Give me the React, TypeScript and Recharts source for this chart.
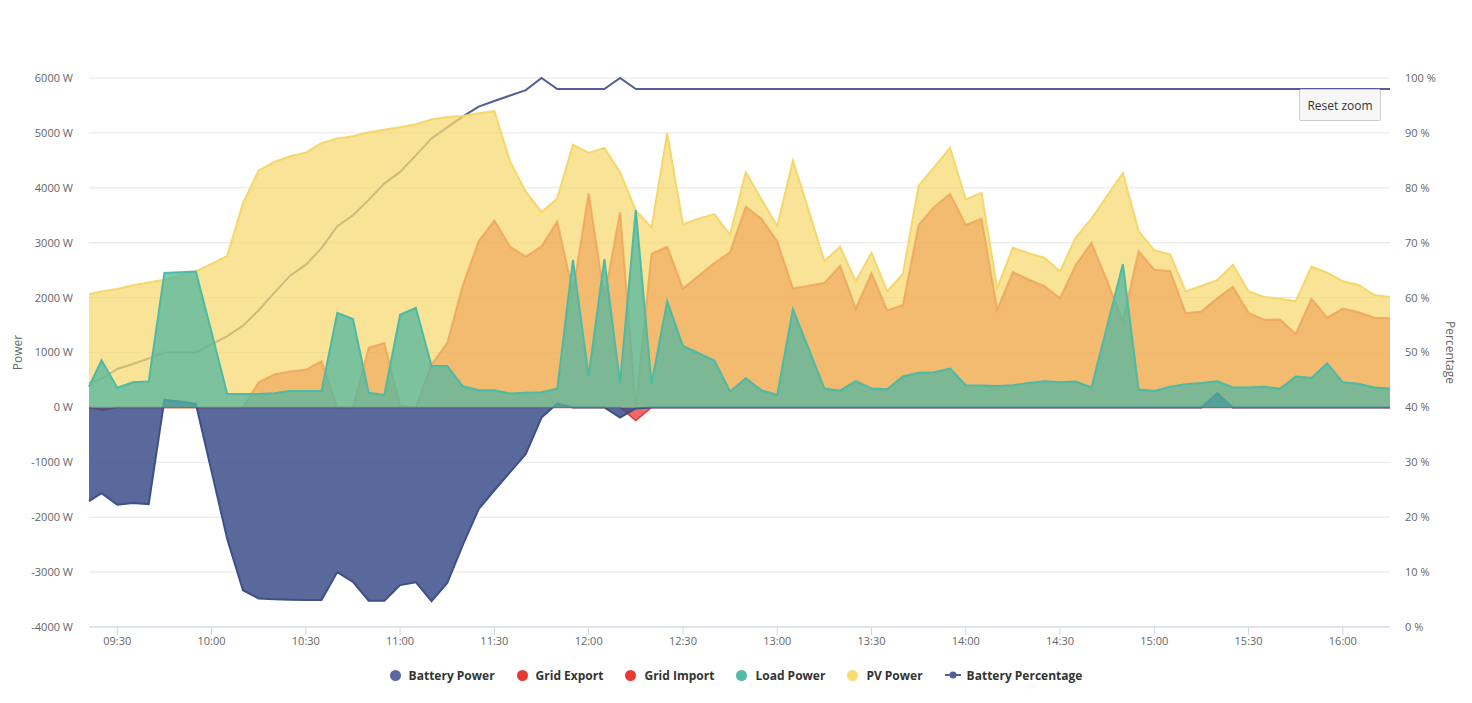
import React from 'react';
import { ComposedChart, Area, Line, XAxis, YAxis, CartesianGrid, Legend } from 'recharts';

// minutes since midnight
const times = [
  561, 565, 570, 575, 580, 585, 590, 595, 600, 605,
  610, 615, 620, 625, 630, 635, 640, 645, 650, 655,
  660, 665, 670, 675, 680, 685, 690, 695, 700, 705,
  710, 715, 720, 725, 730, 735, 740, 745, 750, 755,
  760, 765, 770, 775, 780, 785, 790, 795, 800, 805,
  810, 815, 820, 825, 830, 835, 840, 845, 850, 855,
  860, 865, 870, 875, 880, 885, 890, 895, 900, 905,
  910, 915, 920, 925, 930, 935, 940, 945, 950, 955,
  960, 965, 970, 975,
];

const pvPower = [
  2060, 2112, 2158, 2224, 2277, 2324, 2400, 2476, 2615, 2760,
  3720, 4316, 4470, 4574, 4640, 4813, 4899, 4938, 5011, 5058,
  5104, 5157, 5243, 5289, 5309, 5356, 5395, 4482, 3930, 3555,
  3807, 4786, 4634, 4727, 4283, 3588, 3277, 4991, 3336, 3436,
  3522, 3145, 4283, 3787, 3303, 4495, 3588, 2661, 2926, 2297,
  2814, 2112, 2430, 4038, 4382, 4727, 3787, 3906, 2178, 2906,
  2807, 2727, 2476, 3092, 3436, 3853, 4270, 3211, 2860, 2790,
  2112, 2211, 2317, 2595, 2112, 2012, 1979, 1933, 2562, 2456,
  2297, 2231, 2046, 2012,
];

const gridExport = [
  0, 0, 0, 0, 0, 0, 0, 0, 0, 0,
  0, 457, 602, 655, 685, 841, 0, 0, 1086, 1172,
  30, 0, 780, 1172, 2231, 3025, 3403, 2926, 2747, 2933,
  3383, 2100, 3899, 2000, 3555, 0, 2794, 2926, 2165, 2396,
  2628, 2827, 3654, 3436, 3025, 2165, 2218, 2264, 2582, 1801,
  2443, 1768, 1867, 3323, 3654, 3886, 3323, 3436, 1781, 2463,
  2330, 2211, 1986, 2595, 2992, 2300, 1569, 2847, 2509, 2486,
  1715, 1748, 1986, 2198, 1721, 1595, 1602, 1337, 1979, 1635,
  1801, 1734, 1635, 1622,
];

const gridImport = [
  0, -50, 0, 0, 0, 0, 0, 0, 0, 0,
  0, 0, 0, 0, 0, 0, 0, 0, 0, 0,
  0, 0, 0, 0, 0, 0, 0, 0, 0, 0,
  0, 0, 0, 0, 0, -240, 0, 0, 0, 0,
  0, 0, 0, 0, 0, 0, 0, 0, 0, 0,
  0, 0, 0, 0, 0, 0, 0, 0, 0, 0,
  0, 0, 0, 0, 0, 0, 0, 0, 0, 0,
  0, 0, 0, 0, 0, 0, 0, 0, 0, 0,
  0, 0, 0, 0,
];

const loadPower = [
  377, 854, 357, 457, 470, 2450, 2463, 2476, 1370, 245,
  245, 245, 258, 298, 298, 298, 1721, 1609, 265, 225,
  1688, 1814, 755, 755, 384, 311, 311, 252, 265, 278,
  338, 2688, 576, 2701, 444, 3595, 430, 1933, 1119, 986,
  854, 291, 530, 311, 225, 1787, 1072, 344, 305, 477,
  344, 331, 563, 629, 642, 708, 404, 397, 391, 404,
  444, 477, 457, 470, 364, 1483, 2608, 324, 298, 377,
  424, 444, 477, 364, 364, 377, 338, 563, 536, 801,
  457, 430, 364, 344,
];

const batteryPower = [
  -1708, -1562, -1774, -1741, -1761, 139, 106, 66, -1165, -2400,
  -3330, -3482, -3495, -3502, -3508, -3508, -2999, -3178, -3522, -3522,
  -3237, -3184, -3528, -3197, -2500, -1854, -1509, -1178, -847, -185,
  70, 0, 0, 0, -185, -20, 0, 0, 0, 0,
  0, 0, 0, 0, 0, 0, 0, 0, 0, 0,
  0, 0, 0, 0, 0, 0, 0, 0, 0, 0,
  0, 0, 0, 0, 0, 0, 0, 0, 0, 0,
  0, 0, 258, 0, 0, 0, 0, 0, 0, 0,
  0, 0, 0, 0,
];

const batteryPercentage = [
  44.4, 45.2, 47.0, 47.9, 48.9, 50.0, 50.0, 50.0, 51.5, 53.0,
  54.9, 57.7, 60.9, 64.0, 66.0, 69.0, 73.0, 75.0, 77.8, 80.8,
  82.9, 85.9, 89.0, 91.0, 93.0, 94.8, 95.8, 96.8, 97.8, 100,
  98, 98, 98, 98, 100, 98, 98, 98, 98, 98,
  98, 98, 98, 98, 98, 98, 98, 98, 98, 98,
  98, 98, 98, 98, 98, 98, 98, 98, 98, 98,
  98, 98, 98, 98, 98, 98, 98, 98, 98, 98,
  98, 98, 98, 98, 98, 98, 98, 98, 98, 98,
  98, 98, 98, 98,
];

const xTicks = [570, 600, 630, 660, 690, 720, 750, 780, 810, 840, 870, 900, 930, 960];
const xTickLabels = ['09:30', '10:00', '10:30', '11:00', '11:30', '12:00', '12:30', '13:00', '13:30', '14:00', '14:30', '15:00', '15:30', '16:00'];
const powerTicks = [-4000, -3000, -2000, -1000, 0, 1000, 2000, 3000, 4000, 5000, 6000];
const percentTicks = [0, 10, 20, 30, 40, 50, 60, 70, 80, 90, 100];

const legendItems = [
  { name: 'Battery Power', color: '#5a699c', kind: 'circle' },
  { name: 'Grid Export', color: '#e53935', kind: 'circle' },
  { name: 'Grid Import', color: '#e53935', kind: 'circle' },
  { name: 'Load Power', color: '#52bba6', kind: 'circle' },
  { name: 'PV Power', color: '#f7dc6f', kind: 'circle' },
  { name: 'Battery Percentage', color: '#4f5f98', kind: 'line' },
];

const data = times.map((t, i) => ({
  t,
  pv: pvPower[i],
  exp: gridExport[i],
  imp: gridImport[i],
  load: loadPower[i],
  battery: batteryPower[i],
  pct: batteryPercentage[i],
}));

const FONT = "'Open Sans', 'Noto Sans', sans-serif";

const formatX = (v: number) => {
  const idx = xTicks.indexOf(v);
  return idx >= 0 ? xTickLabels[idx] : '';
};

const LegendContent = () => (
  <div
    style={{
      display: 'flex',
      justifyContent: 'center',
      alignItems: 'center',
      height: 26,
      fontFamily: FONT,
      fontSize: 12,
      fontWeight: 700,
      color: '#333333',
    }}
  >
    {legendItems.map((it, i) => (
      <div key={it.name} style={{ display: 'flex', alignItems: 'center', marginLeft: i === 0 ? 0 : 22 }}>
        {it.kind === 'circle' ? (
          <svg width={11} height={11} style={{ marginRight: 8 }}>
            <circle cx={5.5} cy={5.5} r={5.5} fill={it.color} />
          </svg>
        ) : (
          <svg width={16} height={10} style={{ marginRight: 6 }}>
            <line x1={0} y1={5} x2={16} y2={5} stroke={it.color} strokeWidth={2} />
            <circle cx={8} cy={5} r={3.5} fill={it.color} />
          </svg>
        )}
        <span>{it.name}</span>
      </div>
    ))}
  </div>
);

const PowerTitle = (props: any) => {
  const vb = props.viewBox || { y: 78, height: 549 };
  const cy = vb.y + vb.height / 2;
  return (
    <text x={17} y={cy} transform={`rotate(-90 17 ${cy})`} textAnchor="middle" dominantBaseline="central" fill="#666666" fontSize={12} fontFamily={FONT}>
      Power
    </text>
  );
};

const PercentTitle = (props: any) => {
  const vb = props.viewBox || { y: 78, height: 549 };
  const cy = vb.y + vb.height / 2;
  return (
    <text x={1450} y={cy} transform={`rotate(90 1450 ${cy})`} textAnchor="middle" dominantBaseline="central" fill="#666666" fontSize={12} fontFamily={FONT}>
      Percentage
    </text>
  );
};

export default function App() {
  return (
    <div style={{ position: 'absolute', left: 0, top: 0, width: 1472, height: 703, background: '#ffffff', fontFamily: FONT }}>
      <ComposedChart width={1472} height={703} data={data} margin={{ top: 78, right: 12, bottom: 20, left: 20 }}>
        <CartesianGrid yAxisId="left" horizontal vertical={false} stroke="#e6e6e6" />
        <XAxis
          dataKey="t"
          type="number"
          domain={[561, 975]}
          ticks={xTicks}
          tickFormatter={formatX}
          height={30}
          stroke="#ccd6eb"
          tickLine={{ stroke: '#ccd6eb' }}
          axisLine={{ stroke: '#ccd6eb' }}
          tickSize={8}
          tickMargin={2}
          tick={{ fill: '#666666', fontSize: 11, fontFamily: FONT }}
          interval={0}
        />
        <YAxis
          yAxisId="left"
          domain={[-4000, 6000]}
          ticks={powerTicks}
          tickFormatter={(v: number) => `${v} W`}
          width={69}
          axisLine={false}
          tickLine={false}
          tickSize={0}
          tickMargin={16}
          tick={{ fill: '#666666', fontSize: 11, fontFamily: FONT }}
          interval={0}
          label={PowerTitle}
        />
        <YAxis
          yAxisId="right"
          orientation="right"
          domain={[0, 100]}
          ticks={percentTicks}
          tickFormatter={(v: number) => `${v} %`}
          width={70}
          axisLine={false}
          tickLine={false}
          tickSize={0}
          tickMargin={15}
          tick={{ fill: '#666666', fontSize: 11, fontFamily: FONT }}
          interval={0}
          label={PercentTitle}
        />
        <Line
          yAxisId="right"
          dataKey="pct"
          name="Battery Percentage"
          type="linear"
          stroke="#4f5f98"
          strokeWidth={2}
          dot={false}
          activeDot={false}
          isAnimationActive={false}
          zIndex={50}
        />
        <Area
          yAxisId="left"
          dataKey="pv"
          name="PV Power"
          type="linear"
          baseValue={0}
          stroke="#f5d76a"
          strokeWidth={2}
          fill="#f5d973"
          fillOpacity={0.75}
          isAnimationActive={false}
          activeDot={false}
        />
        <Area
          yAxisId="left"
          dataKey="exp"
          name="Grid Export"
          type="linear"
          baseValue={0}
          stroke="#eda058"
          strokeOpacity={0.75}
          strokeWidth={2}
          fill="#eb9347"
          fillOpacity={0.5}
          isAnimationActive={false}
          activeDot={false}
        />
        <Area
          yAxisId="left"
          dataKey="imp"
          name="Grid Import"
          type="linear"
          baseValue={0}
          stroke="#e53935"
          strokeWidth={1.5}
          fill="#e53935"
          fillOpacity={0.75}
          isAnimationActive={false}
          activeDot={false}
        />
        <Area
          yAxisId="left"
          dataKey="battery"
          name="Battery Power"
          type="linear"
          baseValue={0}
          stroke="#3f4f88"
          strokeWidth={2}
          fill="#3d4f8a"
          fillOpacity={0.85}
          isAnimationActive={false}
          activeDot={false}
        />
        <Area
          yAxisId="left"
          dataKey="load"
          name="Load Power"
          type="linear"
          baseValue={0}
          stroke="#4dbaa6"
          strokeWidth={2}
          fill="#53b79f"
          fillOpacity={0.75}
          isAnimationActive={false}
          activeDot={false}
        />
        <Legend verticalAlign="bottom" content={LegendContent} wrapperStyle={{ left: 0, width: 1472, bottom: 15, height: 26 }} />
      </ComposedChart>
      <div
        style={{
          position: 'absolute',
          left: 1299,
          top: 89,
          width: 82,
          height: 32,
          boxSizing: 'border-box',
          border: '1px solid #cccccc',
          borderRadius: 2,
          background: '#f7f7f7',
          color: '#333333',
          fontSize: 12,
          fontFamily: FONT,
          display: 'flex',
          alignItems: 'center',
          justifyContent: 'center',
        }}
      >
        Reset zoom
      </div>
    </div>
  );
}
